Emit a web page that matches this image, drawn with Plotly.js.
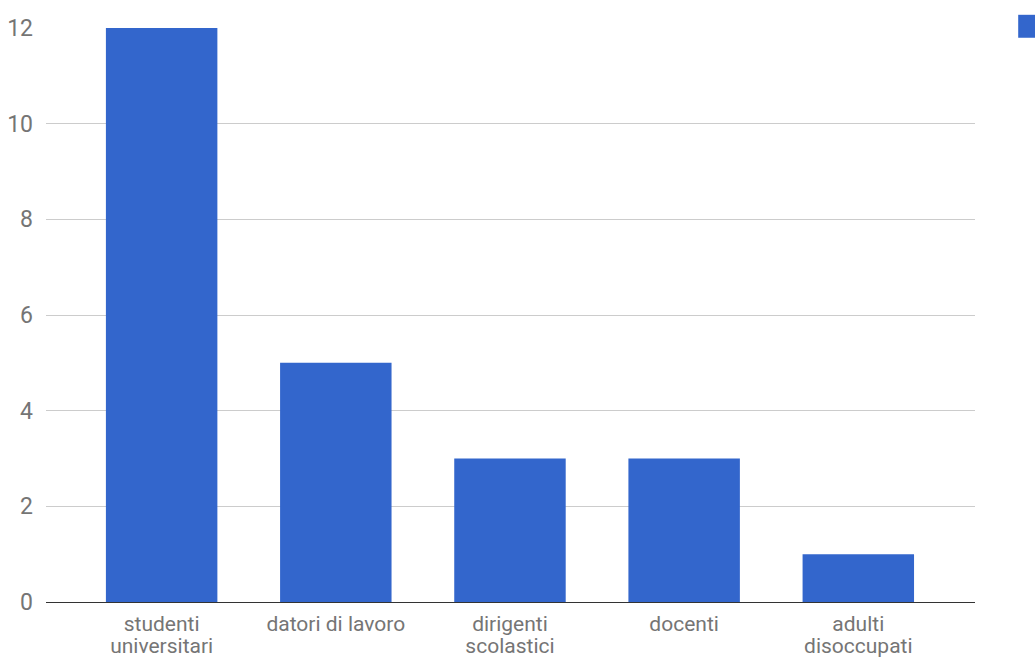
<!DOCTYPE html>
<html>
<head>
<meta charset="utf-8">
<script src="https://cdn.plot.ly/plotly-3.0.1.min.js"></script>
<style>html,body{margin:0;padding:0;background:#fff;}#chart{width:1035px;height:659px;}</style>
</head>
<body>
<div id="chart"></div>
<script>
const categories = ["studenti universitari", "datori di lavoro", "dirigenti scolastici", "docenti", "adulti disoccupati"];
const labelLine1 = ["studenti", "datori di lavoro", "dirigenti", "docenti", "adulti"];
const labelLine2 = ["universitari", "", "scolastici", "", "disoccupati"];
const values = [12, 5, 3, 3, 1];
const yTicks = [0, 2, 4, 6, 8, 10, 12];

const xRange = [-0.664, 4.67];
const textColor = '#757575';

const data = [{
  type: 'bar',
  x: categories,
  y: values,
  marker: {color: '#3366cc'},
  hoverinfo: 'none',
  showlegend: false
}, {
  type: 'scatter',
  mode: 'markers',
  x: categories,
  y: values,
  xaxis: 'x2',
  marker: {opacity: 0, size: 1},
  hoverinfo: 'none',
  showlegend: false
}];

const layout = {
  width: 1035, height: 659,
  margin: {l: 46, r: 60, t: 28, b: 57, pad: 0},
  paper_bgcolor: '#fff', plot_bgcolor: '#fff',
  font: {family: 'Roboto, sans-serif', size: 21, color: textColor},
  bargap: 0.36,
  xaxis: {
    type: 'category', categoryorder: 'array', categoryarray: categories,
    range: xRange,
    tickvals: categories, ticktext: labelLine1,
    showgrid: false, zeroline: false, showline: true,
    linecolor: '#333', linewidth: 1.3,
    ticks: '', ticklabelstandoff: 2,
    tickfont: {size: 21, color: textColor},
    fixedrange: true
  },
  xaxis2: {
    type: 'category', categoryorder: 'array', categoryarray: categories,
    overlaying: 'x', side: 'bottom', anchor: 'y',
    range: xRange,
    tickvals: categories, ticktext: labelLine2,
    showgrid: false, zeroline: false, showline: false,
    ticks: '', ticklabelstandoff: 29,
    tickfont: {size: 21, color: textColor},
    fixedrange: true
  },
  yaxis: {
    range: [0, 12.0],
    tickvals: yTicks, ticktext: yTicks.map(String),
    showgrid: true, gridcolor: '#cccccc', gridwidth: 1,
    zeroline: false, showline: false,
    ticks: '', ticklabelstandoff: 12,
    tickfont: {size: 23, color: textColor},
    fixedrange: true
  },
  shapes: [{
    type: 'rect', xref: 'paper', yref: 'paper',
    x0: 1.0465, x1: 1.08, y0: 1.023, y1: 0.983,
    fillcolor: '#3366cc', line: {width: 0}
  }]
};

Plotly.newPlot('chart', data, layout, {displayModeBar: false, staticPlot: true});
</script>
</body>
</html>
